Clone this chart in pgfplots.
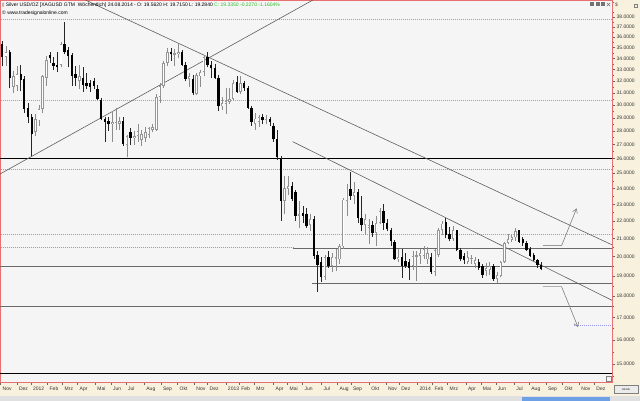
\documentclass[border=0pt]{standalone}
\usepackage{fontspec}
\setmainfont{Liberation Sans}
\newfontfamily\symfont{DejaVu Sans}
\usepackage{pgfplots}
\pgfplotsset{compat=1.18}
\usepackage{pgfplotstable}
\usetikzlibrary{arrows.meta}
\definecolor{plotbg}{RGB}{245,245,245}
\definecolor{beige}{RGB}{247,241,221}
\definecolor{frame}{RGB}{232,112,112}
\definecolor{bullline}{RGB}{150,150,150}
\definecolor{dotgray}{RGB}{165,165,165}
\definecolor{dotblue}{RGB}{150,150,235}
\definecolor{hgray}{RGB}{105,105,105}
\definecolor{trend}{RGB}{95,95,95}
\definecolor{hdrgreen}{RGB}{40,190,40}
\definecolor{scrollblue}{RGB}{110,160,230}

\pgfplotstableread{
i o h l c
-1 35.3 35.6 33.3 34.1
0 34.1 35.2 33.3 34.6
1 34.6 34.8 31.4 32.3
2 31.5 32.9 31.0 32.4
3 31.6 33.3 31.2 32.6
4 32.6 33.4 31.2 32.1
5 32.2 32.4 29.4 29.7
6 29.8 30.2 28.6 29.1
7 29.1 29.3 26.15 27.8
8 27.9 29.3 27.6 28.9
9 28.8 30.0 28.4 29.7
10 29.7 32.5 29.4 32.4
11 32.3 34.2 31.6 33.9
12 34.3 34.6 33.6 34.0
13 33.6 34.1 33.0 33.35
14 33.45 34.6 32.8 33.2
15 33.4 35.5 33.2 35.3
16 35.3 37.5 34.4 34.6
17 34.8 35.1 33.2 34.2
18 34.3 34.5 31.6 32.4
19 32.6 33.3 31.6 32.3
20 32.0 33.4 31.3 32.4
21 32.3 33.2 31.1 31.7
22 31.8 32.7 31.3 31.55
23 31.8 32.1 31.1 31.5
24 32.0 32.3 31.3 31.6
25 31.3 31.7 30.4 30.5
26 30.4 30.6 28.8 28.9
27 28.9 29.1 27.2 28.7
28 28.75 29.05 28.0 28.5
29 28.5 29.5 27.2 28.65
30 28.5 29.8 28.1 28.7
31 28.55 29.1 28.1 28.75
32 28.75 29.05 26.9 27.05
33 26.95 27.7 26.1 27.6
34 27.9 28.2 27.0 27.45
35 27.45 28.0 27.0 27.6
36 27.6 28.5 27.2 28.0
37 27.3 28.1 26.9 27.8
38 27.5 28.3 27.2 27.9
39 27.7 28.3 27.5 28.2
40 28.1 28.5 27.9 28.3
41 28.1 30.9 28.0 30.7
42 30.7 31.8 30.2 31.6
43 31.6 33.8 31.4 33.6
44 33.6 35.0 33.3 34.6
45 34.6 35.0 33.8 34.4
46 34.35 34.9 33.3 34.5
47 34.4 35.4 34.0 34.6
48 34.55 34.8 33.3 33.45
49 33.45 33.7 32.0 32.2
50 32.2 32.7 31.5 32.4
51 32.2 32.5 30.8 31.0
52 30.9 32.7 30.8 32.5
53 32.4 33.0 31.5 32.8
54 32.8 34.3 32.4 34.1
55 34.1 34.6 33.2 33.4
56 33.4 33.8 32.3 33.1
57 33.1 33.5 32.2 32.3
58 32.3 32.5 29.5 29.9
59 29.9 30.7 29.6 30.2
60 30.1 31.4 29.3 30.3
61 30.25 31.4 30.1 30.5
62 30.5 32.1 30.4 31.8
63 31.95 32.4 31.0 31.1
64 31.1 32.4 30.9 31.8
65 31.85 32.0 31.2 31.4
66 31.4 31.6 29.7 29.8
67 29.8 29.9 28.4 28.7
68 28.55 29.4 28.1 28.95
69 28.7 29.2 28.3 29.05
70 29.05 29.3 28.5 28.85
71 28.8 29.2 28.5 28.9
72 28.9 29.05 28.4 28.65
73 28.4 28.6 27.2 27.4
74 27.4 28.1 25.9 26.1
75 26.0 26.2 22.0 23.2
76 23.2 24.8 22.4 24.05
77 24.0 24.85 23.6 24.15
78 24.15 24.4 23.2 23.35
79 23.8 23.9 22.0 22.3
80 22.3 23.2 21.6 22.4
81 22.45 22.9 21.9 22.3
82 22.4 22.8 21.6 21.7
83 21.75 22.4 21.4 22.1
84 22.1 22.3 19.9 20.05
85 20.1 20.3 18.2 19.55
86 19.7 20.0 18.7 18.95
87 18.95 20.1 18.8 20.0
88 20.0 20.3 19.4 19.5
89 19.5 20.2 19.2 20.0
90 19.9 20.4 19.25 20.0
91 19.85 20.7 19.6 20.55
92 20.55 23.4 20.4 23.3
93 23.2 24.3 22.3 24.0
94 24.0 25.1 23.3 23.5
95 23.5 24.4 23.0 23.8
96 23.8 24.0 21.9 22.2
97 22.2 23.5 21.4 21.75
98 21.75 22.4 21.2 22.1
99 21.6 22.1 20.7 21.75
100 21.75 22.0 21.1 21.3
101 21.3 22.3 20.6 21.9
102 21.9 22.8 21.8 22.6
103 22.6 23.0 21.5 21.9
104 21.9 22.1 21.4 21.55
105 21.5 21.6 20.6 20.85
106 20.8 20.9 19.8 19.85
107 19.85 20.4 19.7 20.0
108 20.0 20.4 18.9 19.5
109 19.75 20.2 19.4 19.5
110 19.7 19.9 18.8 19.4
111 19.5 20.3 19.3 20.05
112 20.0 20.3 18.75 20.1
113 20.05 20.4 19.6 20.2
114 20.05 20.6 19.85 20.4
115 19.85 20.5 19.6 20.2
116 20.0 20.2 19.1 19.2
117 19.2 20.4 19.0 20.35
118 20.1 21.6 20.0 21.5
119 21.5 22.0 21.2 21.85
120 21.95 22.2 21.0 21.2
121 21.25 21.65 20.85 20.95
122 20.95 21.7 20.85 21.45
123 21.45 21.5 20.3 20.35
124 20.35 20.45 19.75 19.85
125 20.05 20.2 19.6 19.8
126 19.7 20.3 19.6 20.0
127 19.85 20.1 19.6 19.95
128 19.6 20.0 19.4 19.8
129 19.7 19.9 19.3 19.4
130 19.5 19.6 18.9 19.05
131 19.25 19.65 19.0 19.4
132 19.3 19.7 19.05 19.5
133 19.5 19.6 18.75 18.85
134 18.85 19.2 18.65 19.05
135 19.0 19.75 18.95 19.7
136 19.7 20.8 19.65 20.75
137 20.75 21.25 20.7 20.95
138 20.9 21.2 20.8 21.05
139 21.05 21.6 20.85 21.4
140 21.45 21.5 20.75 20.8
141 20.95 21.1 20.6 20.75
142 20.75 20.85 20.3 20.35
143 20.4 20.5 20.0 20.05
144 20.1 20.2 19.75 19.8
145 19.8 19.85 19.4 19.56
146 19.562 19.715 19.284 19.335
}\candles

\pgfplotstablegetrowsof{\candles}
\pgfmathtruncatemacro\nrows{\pgfplotsretval-1}
\gdef\bullwick{}\gdef\bearwick{}\gdef\bullbody{}\gdef\bullinner{}\gdef\bearbody{}
\foreach \r in {0,...,\nrows}{%
  \pgfplotstablegetelem{\r}{i}\of\candles\let\ci\pgfplotsretval
  \pgfplotstablegetelem{\r}{o}\of\candles\let\co\pgfplotsretval
  \pgfplotstablegetelem{\r}{h}\of\candles\let\ch\pgfplotsretval
  \pgfplotstablegetelem{\r}{l}\of\candles\let\cl\pgfplotsretval
  \pgfplotstablegetelem{\r}{c}\of\candles\let\cc\pgfplotsretval
  \pgfmathtruncatemacro\up{\cc>\co ? 1 : 0}%
  \ifnum\up=1
    \xdef\bullwick{\bullwick (\ci,\cl)(\ci,\ch)(\ci,nan)}%
    \xdef\bullbody{\bullbody (\ci,\co)(\ci,\cc)(\ci,nan)}%
    \pgfmathsetmacro\ilo{\co*1.0025}\pgfmathsetmacro\ihi{\cc/1.0025}%
    \pgfmathtruncatemacro\ok{\ihi>\ilo ? 1 : 0}%
    \ifnum\ok=1 \xdef\bullinner{\bullinner (\ci,\ilo)(\ci,\ihi)(\ci,nan)}\fi
  \else
    \xdef\bearwick{\bearwick (\ci,\cl)(\ci,\ch)(\ci,nan)}%
    \xdef\bearbody{\bearbody (\ci,\cc)(\ci,\co)(\ci,nan)}%
  \fi
}

\begin{document}
\begin{tikzpicture}
\fill[white] (0pt,0pt) rectangle (640pt,401pt);
\fill[beige] (612pt,19pt) rectangle (640pt,401pt);
\fill[beige] (0pt,5pt) rectangle (640pt,19pt);
\fill[black!12] (0pt,0pt) rectangle (640pt,5pt);
\fill[scrollblue] (522pt,0pt) rectangle (610pt,4pt);
\begin{axis}[
  at={(0pt,19pt)}, anchor=south west,
  width=612pt, height=382pt, scale only axis,
  xmin=-1.637, xmax=165.35,
  ymode=log, ymin=14.294, ymax=39.77,
  axis background/.style={fill=plotbg},
  axis line style={frame, line width=0.6pt},
  tick align=outside,
  major tick length=3pt, minor tick length=1.5pt,
  tick style={black!60, line width=0.4pt},
  ytick pos=right, yticklabel pos=right,
  xtick pos=left, xticklabel pos=left,
  ytick={15,16,17,18,19,20,21,22,23,24,25,26,27,28,29,30,31,32,33,34,35,36,37,38},
  yticklabels={15.0000,16.0000,17.0000,18.0000,19.0000,20.0000,21.0000,22.0000,23.0000,24.0000,25.0000,26.0000,27.0000,28.0000,29.0000,30.0000,31.0000,32.0000,33.0000,34.0000,35.0000,36.0000,37.0000,38.0000},
  minor ytick={14.5,15.5,16.5,17.5,18.5,19.5,20.5,21.5,22.5,23.5,24.5,25.5,26.5,27.5,28.5,29.5,30.5,31.5,32.5,33.5,34.5,35.5,36.5,37.5,38.5,39.5},
  yticklabel style={font=\fontsize{5}{6}\selectfont, text=black!80, anchor=west, inner sep=0pt, xshift=1.5pt},
  xtick={-1.5,2.95,6.77,11.32,15.42,19.51,24.34,28.6,32.69,37.71,42.24,46.79,51.35,54.98,59.97,63.63,67.72,72.99,76.81,80.9,86.08,90.45,94.08,99.1,103.63,107.28,112.28,116.37,120.46,125.46,129.55,133.64,138.66,142.76,147.29,151.84,156.4,160.49},
  xticklabels={Nov,Dez,2012,Feb,Mrz,Apr,Mai,Jun,Jul,Aug,Sep,Okt,Nov,Dez,2013,Feb,Mrz,Apr,Mai,Jun,Jul,Aug,Sep,Okt,Nov,Dez,2014,Feb,Mrz,Apr,Mai,Jun,Jul,Aug,Sep,Okt,Nov,Dez},
  xticklabel style={font=\fontsize{5}{6}\selectfont, text=black!80, anchor=north west, inner sep=0pt, xshift=2pt, yshift=-1.5pt},
  unbounded coords=jump,
  clip=true,
]
\addplot[dotgray, dash pattern=on 1pt off 1pt, line width=0.5pt] coordinates {(-2,37.8)(166,37.8)};
\addplot[dotgray, dash pattern=on 1pt off 1pt, line width=0.5pt] coordinates {(-2,30.37)(166,30.37)};
\addplot[dotblue, dash pattern=on 1pt off 1pt, line width=0.6pt] coordinates {(-2,25.29)(166,25.29)};
\addplot[dotgray, dash pattern=on 1pt off 1pt, line width=0.5pt] coordinates {(-2,21.23)(166,21.23)};
\addplot[dotblue, dash pattern=on 1pt off 1pt, line width=0.6pt] coordinates {(-2,20.5)(78.3,20.5)};
\addplot[hgray, line width=0.8pt] coordinates {(78.3,20.47)(166,20.47)};
\addplot[hgray, line width=1.6pt] coordinates {(-2,19.47)(166,19.47)};
\addplot[hgray, line width=0.8pt] coordinates {(83.4,18.63)(166,18.63)};
\addplot[hgray, line width=0.8pt] coordinates {(-2,17.49)(166,17.49)};
\addplot[dotblue, dash pattern=on 1pt off 1pt, line width=0.6pt] coordinates {(155,16.63)(166,16.63)};
\addplot[black, line width=1.6pt] coordinates {(-2,26)(166,26)};
\addplot[black, line width=1.6pt] coordinates {(-2,14.63)(166,14.63)};
\addplot[trend, line width=0.6pt] coordinates {(-1.637,24.95)(83.75,39.77)};
\addplot[trend, line width=0.6pt] coordinates {(21.64,39.77)(165.35,20.64)};
\addplot[trend, line width=0.6pt] coordinates {(78.2,27.21)(165.35,17.79)};
\addplot[black!40, line width=0.8pt] coordinates {(146.6,20.6)(151.6,20.6)};
\addplot[black!50, line width=0.6pt, -{Straight Barb[length=4pt,width=5pt]}] coordinates {(151.6,20.6)(155.7,22.76)};
\addplot[black!30, line width=1.3pt] coordinates {(146.6,18.45)(151.6,18.45)};
\addplot[black!50, line width=0.6pt, -{Straight Barb[length=4pt,width=5pt]}] coordinates {(151.6,18.45)(156.07,16.56)};
\edef\tmp{\noexpand\addplot[black!45, line width=0.6pt, mark=none] coordinates {\bullwick};}\tmp
\edef\tmp{\noexpand\addplot[black!85, line width=0.6pt, mark=none] coordinates {\bearwick};}\tmp
\edef\tmp{\noexpand\addplot[black, line width=2.3pt, mark=none] coordinates {\bearbody};}\tmp
\edef\tmp{\noexpand\addplot[bullline, line width=2.5pt, mark=none] coordinates {\bullbody};}\tmp
\edef\tmp{\noexpand\addplot[white, line width=1.1pt, mark=none] coordinates {\bullinner};}\tmp
\end{axis}
\node[anchor=west, inner sep=0pt, font=\fontsize{5}{6}\selectfont] at (2pt,396pt)
  {{\symfont\fontsize{4.5}{6}\selectfont ◊} Silver USD/OZ [XAGUSD GTM\ \ Wöchentlich] 24.08.2014 - O: 19.5620 H: 19.7150 L: 19.2840 \textcolor{hdrgreen}{C: 19.3350 -0.2270 -1.1604\%}};
\node[anchor=west, inner sep=0pt, font=\fontsize{5}{6}\selectfont] at (2pt,387.5pt)
  {© www.tradesignalonline.com};
\foreach \xx in {590,595.5,601}{\fill[black!55] (\xx pt,394.5pt) rectangle ++(4pt,4pt);}
\draw[black!55, line width=0.5pt] (606.8pt,394.8pt) -- ++(3.4pt,3.4pt) (606.8pt,398.2pt) -- ++(3.4pt,-3.4pt);
\node[anchor=west, inner sep=0pt, font=\fontsize{5}{6}\selectfont, text=black!70] at (615pt,396pt) {\$};
\draw[black!50, line width=0.4pt] (634pt,393.5pt) rectangle ++(3.5pt,3.5pt);
\draw[black!50, line width=0.4pt] (606pt,20pt) rectangle ++(5pt,5pt);
\draw[black!50, fill=black!8, line width=0.4pt] (614pt,7.5pt) rectangle (638pt,15.5pt);
\node[inner sep=0pt, font=\fontsize{3.5}{4}\selectfont, text=black!70] at (626pt,11.5pt) {\symfont ◂◂ ▸▸};
\pgfresetboundingbox
\useasboundingbox (0pt,0pt) rectangle (640pt,401pt);
\end{tikzpicture}
\end{document}
